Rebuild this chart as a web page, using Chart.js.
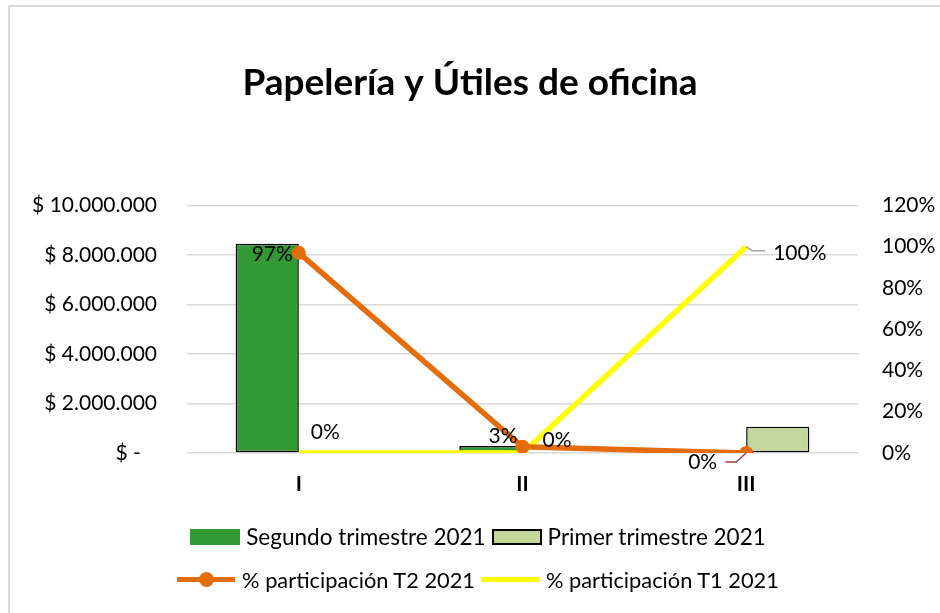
<!DOCTYPE html>
<html>
<head>
<meta charset="utf-8">
<script src="https://cdn.jsdelivr.net/npm/chart.js@4.4.1/dist/chart.umd.min.js"></script>
<style>
  html, body { margin: 0; padding: 0; background: #fff; overflow: hidden; }
  #wrap { position: relative; width: 940px; height: 613px; }
  #legend { position: absolute; left: 0; top: 515px; width: 956px; font-family: Lato, sans-serif; font-size: 22.5px; color: #000; }
  .row { display: flex; justify-content: center; align-items: center; height: 43px; }
  .row.small { font-size: 21.8px; }
  .item { display: flex; align-items: center; margin: 0 3px; white-space: nowrap; }
  .box { width: 50px; height: 16px; margin-right: 6px; box-sizing: border-box; }
  .line { position: relative; width: 58px; height: 5px; margin-right: 7px; }
  .line .dot { position: absolute; left: 22px; top: -5px; width: 15px; height: 15px; border-radius: 50%; }
</style>
</head>
<body>
<div id="wrap">
  <canvas id="chart" width="940" height="613"></canvas>
  <div id="legend"></div>
</div>
<script>
// Categories and values
const categories = ['I', 'II', 'III'];
const segundoTrimestre = [8450000, 280000, 0];
const primerTrimestre = [0, 0, 1060000];
const partT2 = [0.97, 0.03, 0];
const partT1 = [0, 0, 1];

const fontFamily = 'Lato, sans-serif';
const orange = '#E46C0A';
const yellow = '#FFFF00';
const darkGreen = '#339933';
const lightGreen = '#C4D79B';

// where each data label sits relative to its point
const t2Labels = [
  { dx: -6, dy: 1, align: 'right' },
  { dx: -5, dy: -11, align: 'right' },
  { dx: -29, dy: 9, align: 'right', leader: '#A0413E' },
];
const t1Labels = [
  { dx: 12, dy: -21, align: 'left' },
  { dx: 20, dy: -13, align: 'left' },
  { dx: 27, dy: 7, align: 'left', leader: '#A6A6A6' },
];

function money(v) {
  if (v === 0) return '$ -   ';
  return '$ ' + String(v).replace(/\B(?=(\d{3})+(?!\d))/g, '.');
}
function pct(v) {
  return Math.round(v * 100) + '%';
}

// grey frame of the chart object (cut off at right and bottom)
const framePlugin = {
  id: 'frame',
  beforeDraw(chart) {
    const ctx = chart.ctx;
    ctx.save();
    ctx.fillStyle = '#fff';
    ctx.fillRect(0, 0, chart.width, chart.height);
    ctx.strokeStyle = '#D9D9D9';
    ctx.lineWidth = 2;
    ctx.strokeRect(9, 6, chart.width + 20, chart.height + 20);
    ctx.restore();
  }
};

// data labels for the two percentage lines
const pointLabels = {
  id: 'pointLabels',
  afterDatasetsDraw(chart) {
    const ctx = chart.ctx;
    chart.data.datasets.forEach((ds, di) => {
      if (!ds.labelPlacement) return;
      const meta = chart.getDatasetMeta(di);
      meta.data.forEach((pt, i) => {
        const p = ds.labelPlacement[i];
        const tx = pt.x + p.dx;
        const ty = pt.y + p.dy;
        ctx.save();
        if (p.leader) {
          ctx.strokeStyle = p.leader;
          ctx.lineWidth = 1.5;
          ctx.beginPath();
          if (p.align === 'right') {
            ctx.moveTo(tx + 8, ty);
            ctx.lineTo(tx + 19, ty);
            ctx.lineTo(pt.x, pt.y);
          } else {
            ctx.moveTo(pt.x, pt.y);
            ctx.lineTo(pt.x + 6, pt.y + 4);
            ctx.lineTo(tx - 8, pt.y + 4);
          }
          ctx.stroke();
        }
        ctx.fillStyle = '#000';
        ctx.font = '21px ' + fontFamily;
        ctx.textAlign = p.align;
        ctx.textBaseline = 'middle';
        ctx.fillText(pct(ds.data[i]), tx, ty);
        ctx.restore();
      });
    });
  }
};

const ctx = document.getElementById('chart').getContext('2d');
const chart = new Chart(ctx, {
  type: 'bar',
  data: {
    labels: categories,
    datasets: [
      {
        type: 'line',
        label: '% participación T2 2021',
        data: partT2,
        yAxisID: 'y1',
        borderColor: orange,
        backgroundColor: orange,
        borderWidth: 5.5,
        pointRadius: 7,
        pointBorderWidth: 0,
        pointBackgroundColor: orange,
        tension: 0,
        order: 0,
        labelPlacement: t2Labels,
      },
      {
        type: 'line',
        label: '% participación T1 2021',
        data: partT1,
        yAxisID: 'y1',
        borderColor: yellow,
        backgroundColor: yellow,
        borderWidth: 5.5,
        pointRadius: 0,
        tension: 0,
        order: 1,
        labelPlacement: t1Labels,
      },
      {
        label: 'Segundo trimestre 2021',
        data: segundoTrimestre,
        yAxisID: 'y',
        backgroundColor: darkGreen,
        borderColor: '#000',
        borderWidth: 1.5,
        borderSkipped: false,
        categoryPercentage: 0.565,
        barPercentage: 1,
        order: 2,
      },
      {
        label: 'Primer trimestre 2021',
        data: primerTrimestre,
        yAxisID: 'y',
        backgroundColor: lightGreen,
        borderColor: '#000',
        borderWidth: 1.5,
        borderSkipped: false,
        categoryPercentage: 0.565,
        barPercentage: 1,
        order: 2,
      },
    ],
  },
  options: {
    responsive: false,
    animation: false,
    layout: { padding: { left: 0, right: 0, top: 0, bottom: 110 } },
    plugins: {
      legend: { display: false },
      tooltip: { enabled: false },
      title: {
        display: true,
        text: 'Papelería y Útiles de oficina',
        color: '#000',
        font: { family: fontFamily, size: 37, weight: 'bold', lineHeight: 1.2 },
        padding: { top: 61, bottom: 100 },
      },
    },
    scales: {
      x: {
        grid: { display: false, drawTicks: false },
        border: { display: false },
        ticks: { color: '#000', padding: 19, font: { family: fontFamily, size: 21, weight: 'bold' } },
        afterFit: (s) => { s.height = 50; },
      },
      y: {
        position: 'left',
        min: 0,
        max: 10000000,
        ticks: {
          stepSize: 2000000,
          color: '#000',
          padding: 30,
          font: { family: fontFamily, size: 21 },
          callback: (v) => money(v),
        },
        grid: { color: '#D9D9D9', lineWidth: 1.5, drawTicks: false },
        border: { display: false },
        afterFit: (s) => { s.width = 187; },
      },
      y1: {
        position: 'right',
        min: 0,
        max: 1.2,
        ticks: {
          stepSize: 0.2,
          color: '#000',
          padding: 24,
          font: { family: fontFamily, size: 21 },
          callback: (v) => pct(v),
        },
        grid: { display: false, drawTicks: false },
        border: { display: false },
        afterFit: (s) => { s.width = 82; },
      },
    },
  },
  plugins: [framePlugin, pointLabels],
});

// legend in two rows, as in the picture
const legendRows = [
  [
    { text: 'Segundo trimestre 2021', kind: 'box', color: darkGreen, border: 'none' },
    { text: 'Primer trimestre 2021', kind: 'box', color: lightGreen, border: '2px solid #000' },
  ],
  [
    { text: '% participación T2 2021', kind: 'line', color: orange, dot: true },
    { text: '% participación T1 2021', kind: 'line', color: yellow, dot: false },
  ],
];
const legendEl = document.getElementById('legend');
legendRows.forEach((row, r) => {
  const rowEl = document.createElement('div');
  rowEl.className = r === 1 ? 'row small' : 'row';
  row.forEach(it => {
    const item = document.createElement('div');
    item.className = 'item';
    const sw = document.createElement('span');
    if (it.kind === 'box') {
      sw.className = 'box';
      sw.style.background = it.color;
      sw.style.border = it.border;
    } else {
      sw.className = 'line';
      sw.style.background = it.color;
      if (it.dot) {
        const d = document.createElement('span');
        d.className = 'dot';
        d.style.background = it.color;
        sw.appendChild(d);
      }
    }
    const label = document.createElement('span');
    label.textContent = it.text;
    item.appendChild(sw);
    item.appendChild(label);
    rowEl.appendChild(item);
  });
  legendEl.appendChild(rowEl);
});
</script>
</body>
</html>
